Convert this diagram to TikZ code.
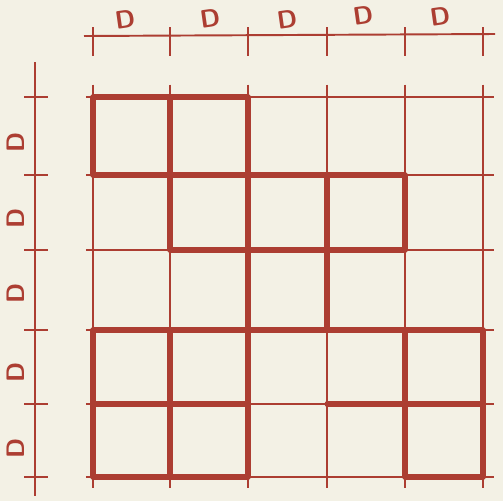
\documentclass[tikz,border=0pt]{standalone}
\usetikzlibrary{calc}
\definecolor{ink}{RGB}{172,62,50}
\definecolor{paper}{RGB}{243,241,229}
\tikzset{
  fine/.style={draw=ink, line width=1.1pt},
  heavy/.style={draw=ink, line width=2.9pt, line cap=round},
  dimlabel/.style={text=ink, font=\sffamily\bfseries\Large, inner sep=0pt}
}
\begin{document}
\begin{tikzpicture}[x=0.02cm, y=-0.02cm]
\fill[paper] (0,0) rectangle (503,501);
\useasboundingbox (0,0) rectangle (503,501);

% grid points p<col><row>
\foreach \x [count=\i from 0] in {93,170,248,327,405,483}
  \foreach \y [count=\j from 0] in {97,175,250,330,404,477}
    \coordinate (p\i\j) at (\x,\y);

% thin lines of the whole grid
\foreach \i in {0,...,5} {
  \draw[fine, shorten <=-7pt, shorten >=-6pt] (p\i0) -- (p\i5);
  \draw[fine, shorten <=-4pt, shorten >=-6pt] (p0\i) -- (p5\i);
}

% heavy bands, horizontal then vertical
\foreach \a/\b in {00/20, 01/41, 12/42, 03/53, 04/24, 34/54, 05/25, 45/55}
  \draw[heavy] (p\a) -- (p\b);
\foreach \a/\b in {00/01, 03/05, 10/12, 13/15, 20/25, 31/33, 41/42, 43/45, 53/55}
  \draw[heavy] (p\a) -- (p\b);

% top dimension line
\coordinate (tl) at (84,36);
\coordinate (tr) at (495,34);
\draw[fine] (tl) -- (tr);
\foreach \x in {93,170,248,327,405,483}
  \draw[fine] (\x,27) -- (\x,56);
\foreach \x/\y [count=\k] in {125/19, 210/18, 287/19, 363/15, 440/16}
  \node[dimlabel, rotate=8] (top\k) at (\x,\y) {D};

% left dimension line
\coordinate (lt) at (35,62);
\coordinate (lb) at (35,496);
\draw[fine] (lt) -- (lb);
\foreach \y in {97,175,250,330,404,477}
  \draw[fine] (24,\y) -- (48,\y);
\foreach \y [count=\k] in {142,218,293,372,448}
  \node[dimlabel, rotate=90] (side\k) at (16,\y) {D};
\end{tikzpicture}
\end{document}
